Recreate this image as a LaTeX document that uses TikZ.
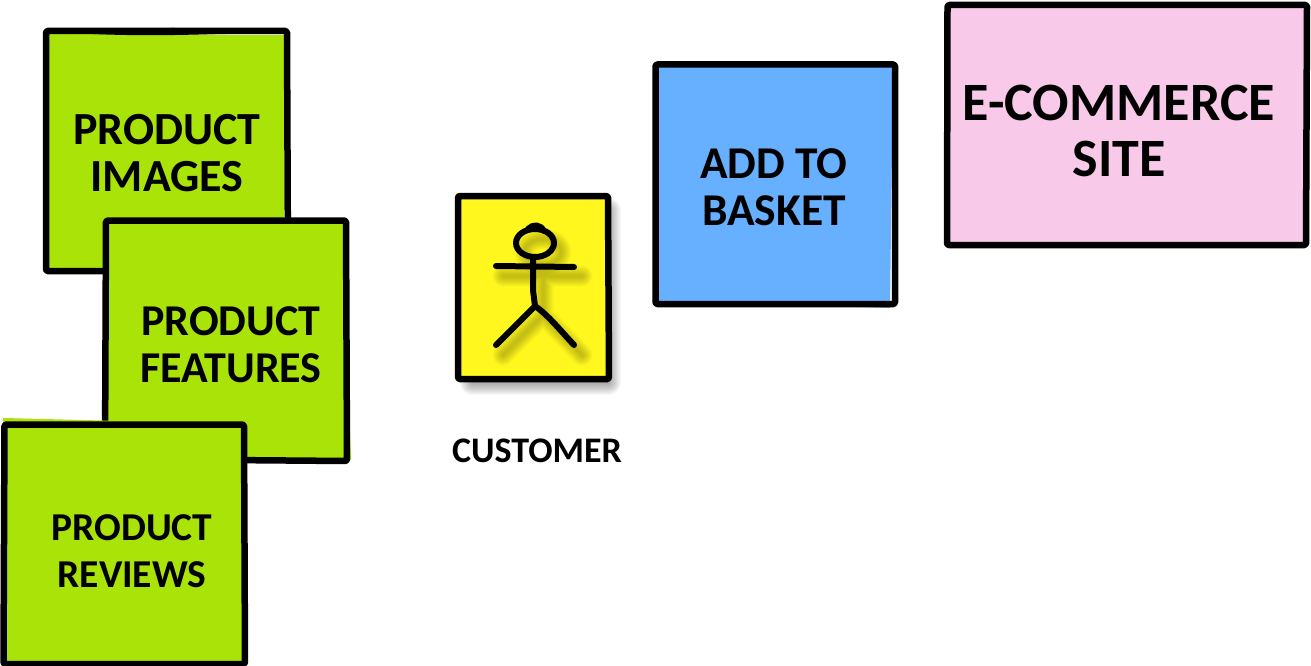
\documentclass[tikz,border=0pt]{standalone}
\usepackage{fontspec}
\setmainfont{Carlito}
\definecolor{notegreen}{HTML}{A9E307}
\definecolor{noteblue}{HTML}{66B0FF}
\definecolor{notepink}{HTML}{F8C9E9}
\definecolor{noteyellow}{HTML}{FFF71E}

\begin{document}
\begin{tikzpicture}[x=1pt,y=-1pt,line join=round,line cap=round,
                outline/.style={draw=black,line width=6.5pt,rounded corners=1.5pt},
                stick/.style={draw=black,line width=6pt},
                soft/.style={line width=#1,draw=black,fill=black,opacity=0.03},
                note label/.style={align=center,font=\bfseries\fontsize{#1}{47}\selectfont,inner sep=0pt},
                note label/.default=43]
  \useasboundingbox (0,0) rectangle (1311,666);

  % product notes
  \fill[notegreen] (49,34) -- (284,35) -- (284,268) -- (43,272) -- cycle;
  \draw[outline] (46,31) -- (287,31) -- (288,271) -- (46,271) -- cycle;
  \fill (46,31) .. controls (150,27) and (200,27) .. (287,31) .. controls (200,35) and (130,38) .. (46,31) -- cycle;
  \node[note label=46] (images) at (167,153) {PRODUCT\\IMAGES};

  \fill[notegreen] (108,223) -- (343,223) -- (351,460) -- (108,461) -- cycle;
  \draw[outline] (106,220.5) -- (346,220.5) -- (347,461) -- (105,459) -- cycle;
  \node[note label=44] (features) at (231,345) {PRODUCT\\FEATURES};

  \fill[notegreen] (3,418) -- (243,424) -- (247,662) -- (4,662) -- cycle;
  \draw[outline] (4.5,424.5) -- (244,424.5) -- (245,664) -- (3.5,664) -- cycle;
  \node[note label=39.5] (reviews) at (132,551) {PRODUCT\\REVIEWS};

  % customer with shadow
  \foreach \w in {1,3,...,25}
    \path[soft=\w pt] (472,210) -- (608,210) -- (608,382) -- (472,382) -- cycle;
  \fill[noteyellow] (456,193) -- (608,196) -- (608,380) -- (458,380) -- cycle;
  \draw[outline] (458,196) -- (608,196) -- (609,379) -- (458,379) -- cycle;
  \foreach \w in {3,5,...,21} {
    \draw[black,opacity=0.025,line width=\w pt] (503,276) -- (582,276) (543,276) -- (543,315) -- (503,355) (543,315) -- (582,355);
    \draw[black,opacity=0.025,line width=\w pt] (543,252) ellipse (18 and 13);
  }
  \draw[stick] (535,243) ellipse (19 and 14);
  \draw[stick] (528,229) .. controls (533,224) and (540,224) .. (544,231);
  \draw[stick] (496,266) -- (574,267);
  \draw[stick] (533,258) -- (533,290) -- (535,306);
  \draw[stick] (535,306) -- (496,345);
  \draw[stick] (535,306) .. controls (548,315) and (560,330) .. (574,345);
  \node[note label=36] (customer) at (537,451) {CUSTOMER};

  % basket
  \fill[noteblue] (658,67) -- (893,67) -- (890,308) -- (658,301) -- cycle;
  \draw[outline] (655.5,64.5) -- (895,64.5) -- (895,304) -- (655.5,304) -- cycle;
  \node[note label=45.5] (basket) at (774,187) {ADD TO\\BASKET};

  % site
  \fill[notepink] (948,6) -- (1306,6) -- (1306,245) -- (948,245) -- cycle;
  \draw[outline] (947.5,5) -- (1307,5) -- (1306,245) -- (947,245) -- cycle;
  \node[align=center,font=\bfseries\fontsize{54}{56}\selectfont,inner sep=0pt] (site) at (1119,131) {E-COMMERCE\\SITE};
\end{tikzpicture}
\end{document}
